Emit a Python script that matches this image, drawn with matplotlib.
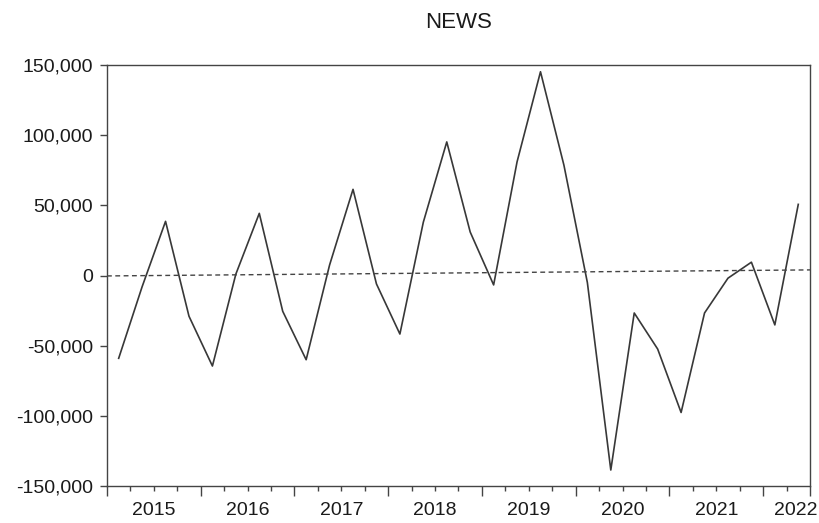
import matplotlib
matplotlib.use("Agg")
import matplotlib.pyplot as plt
import matplotlib.transforms as mtransforms
from matplotlib.ticker import FuncFormatter

plt.rcParams["font.family"] = ["Liberation Sans", "DejaVu Sans"]

# Quarterly series, 2015Q1 - 2022Q2
years = [2015] * 4 + [2016] * 4 + [2017] * 4 + [2018] * 4 + [2019] * 4 \
    + [2020] * 4 + [2021] * 4 + [2022] * 2
quarters = [1, 2, 3, 4] * 7 + [1, 2]
news = [
    -59000, -8000, 38600, -29000,
    -64500, 1000, 44300, -25500,
    -60000, 7500, 61400, -6000,
    -41700, 38000, 95200, 31000,
    -6700, 81000, 145200, 78600,
    -5000, -138600, -26700, -52400,
    -97600, -26700, -1900, 9500,
    -35200, 50700,
]
# linear trend line (dashed), value at start and end of the sample
trend_start = -300
trend_end = 4000

year_labels = ["2015", "2016", "2017", "2018", "2019", "2020", "2021", "2022"]
y_ticks = [150000, 100000, 50000, 0, -50000, -100000, -150000]

x = [y + (q - 0.5) / 4 for y, q in zip(years, quarters)]
x_min, x_max = 2015.0, 2022.5

fig = plt.figure(figsize=(8.19, 5.23), dpi=100)
ax = fig.add_axes([0.1306, 0.0707, 0.8584, 0.805])

ax.plot(x, news, color="#383838", linewidth=1.2)
ax.plot([x_min, x_max], [trend_start, trend_end], color="#444444",
        linewidth=1.0, linestyle=(0, (3.5, 2.5)))

ax.set_xlim(x_min, x_max)
ax.set_ylim(-150000, 150000)

ax.set_yticks(y_ticks)
ax.yaxis.set_major_formatter(FuncFormatter(lambda v, p: f"{int(v):,}"))
ax.tick_params(axis="y", direction="out", length=5, width=1.0,
               color="#444444", labelsize=14, pad=5, labelcolor="#1a1a1a")

ax.set_xticks([2015 + i for i in range(8)] + [x_max])
ax.set_xticklabels([])
ax.set_xticks([2015 + i + q / 4 for i in range(8) for q in (1, 2, 3)
               if 2015 + i + q / 4 < x_max], minor=True)
ax.tick_params(axis="x", which="major", direction="out", length=7,
               width=1.0, color="#444444")
ax.tick_params(axis="x", which="minor", direction="out", length=3.5,
               width=1.0, color="#444444")

trans = mtransforms.blended_transform_factory(ax.transData, ax.transAxes)
label_pos = [2015.5 + i for i in range(7)] + [2022.35]
for lx, lab in zip(label_pos, year_labels):
    ax.text(lx, -0.058, lab, transform=trans, ha="center", va="center",
            fontsize=14, color="#1a1a1a")

for s in ax.spines.values():
    s.set_color("#444444")
    s.set_linewidth(1.0)

ax.set_title("NEWS", fontsize=16, color="#1a1a1a", pad=27)

fig.savefig("out.png", dpi=100, facecolor="white")
